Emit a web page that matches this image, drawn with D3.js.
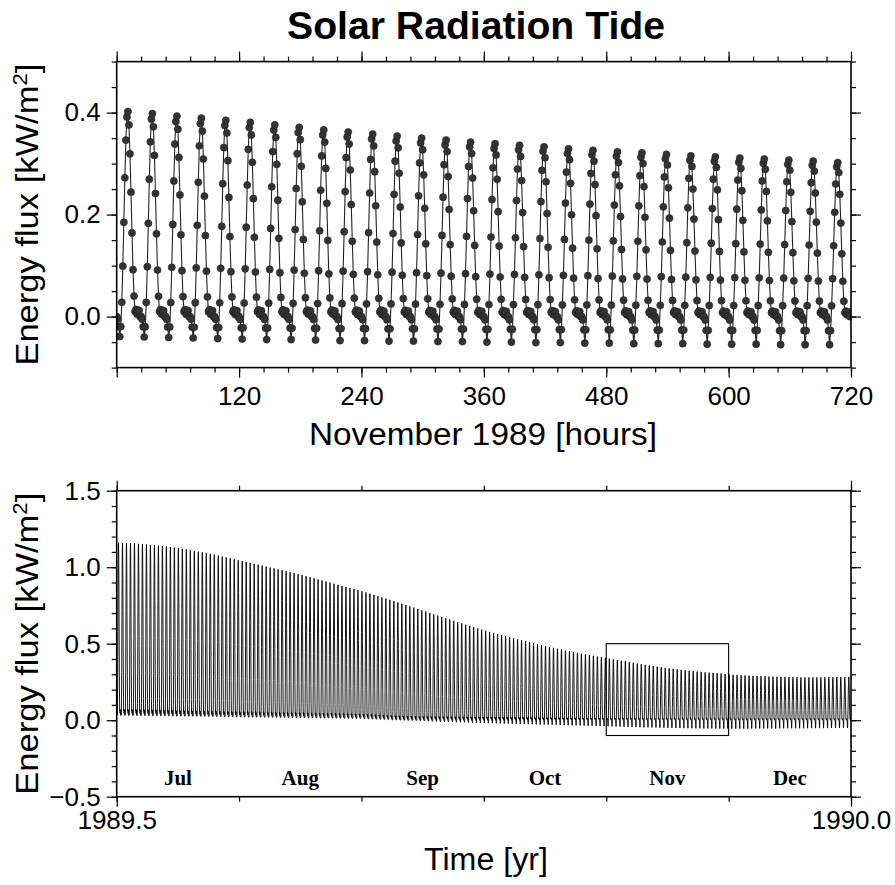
<!DOCTYPE html>
<html>
<head>
<meta charset="utf-8">
<script src="https://cdn.jsdelivr.net/npm/d3@7"></script>
<style>
  html, body { margin: 0; padding: 0; background: #fff; }
  svg { display: block; font-family: "Liberation Sans", Arial, Helvetica, sans-serif; }
</style>
</head>
<body>
<svg id="chart" width="895" height="885"></svg>
<script>
// ---------------------------------------------------------------
// Data: surface solar energy flux, second half of 1989
// ---------------------------------------------------------------
const monthNames = ["Jul", "Aug", "Sep", "Oct", "Nov", "Dec"];
const monthLengths = [31, 31, 30, 31, 30, 31];

// Daily maximum flux [kW/m^2], 1 Jul - 31 Dec 1989
const dailyMax = [
  // Jul
  1.160, 1.159, 1.158, 1.157, 1.155, 1.153, 1.151, 1.149, 1.146, 1.144, 1.141, 1.138, 1.135, 1.132, 1.128, 1.124,
  1.120, 1.116, 1.112, 1.107, 1.102, 1.097, 1.092, 1.087, 1.082, 1.076, 1.070, 1.064, 1.058, 1.052, 1.046,
  // Aug
  1.040, 1.034, 1.028, 1.022, 1.016, 1.010, 1.004, 0.998, 0.992, 0.986, 0.980, 0.974, 0.968, 0.961, 0.955, 0.948,
  0.941, 0.934, 0.927, 0.920, 0.913, 0.906, 0.899, 0.892, 0.885, 0.878, 0.871, 0.864, 0.857, 0.850, 0.843,
  // Sep
  0.835, 0.827, 0.819, 0.811, 0.803, 0.795, 0.787, 0.778, 0.770, 0.761, 0.753, 0.744, 0.736, 0.727, 0.718,
  0.710, 0.701, 0.692, 0.684, 0.675, 0.666, 0.658, 0.649, 0.641, 0.632, 0.624, 0.616, 0.608, 0.600, 0.592,
  // Oct
  0.585, 0.577, 0.570, 0.563, 0.556, 0.549, 0.542, 0.535, 0.528, 0.522, 0.515, 0.509, 0.503, 0.497, 0.491, 0.485,
  0.479, 0.473, 0.467, 0.462, 0.456, 0.451, 0.446, 0.440, 0.435, 0.430, 0.426, 0.421, 0.416, 0.412, 0.407,
  // Nov
  0.402, 0.398, 0.393, 0.389, 0.385, 0.381, 0.376, 0.371, 0.366, 0.362, 0.358, 0.354, 0.350, 0.346, 0.342,
  0.339, 0.336, 0.333, 0.329, 0.326, 0.323, 0.321, 0.318, 0.315, 0.313, 0.311, 0.309, 0.307, 0.305, 0.302,
  // Dec
  0.299, 0.297, 0.296, 0.294, 0.293, 0.291, 0.290, 0.289, 0.288, 0.287, 0.286, 0.285, 0.284, 0.283, 0.282, 0.282,
  0.281, 0.281, 0.280, 0.280, 0.280, 0.280, 0.280, 0.280, 0.281, 0.281, 0.281, 0.282, 0.282, 0.282, 0.283
];

// Nightly minimum flux [kW/m^2], same days
const dailyMin = [
  // Jul
  0.033, 0.033, 0.032, 0.032, 0.032, 0.031, 0.031, 0.031, 0.030, 0.030, 0.030, 0.029, 0.029, 0.029, 0.028, 0.028,
  0.028, 0.027, 0.027, 0.027, 0.026, 0.026, 0.026, 0.025, 0.025, 0.025, 0.024, 0.024, 0.023, 0.023, 0.022,
  // Aug
  0.022, 0.022, 0.021, 0.021, 0.021, 0.020, 0.020, 0.020, 0.019, 0.019, 0.019, 0.018, 0.018, 0.018, 0.017, 0.017,
  0.017, 0.016, 0.016, 0.016, 0.015, 0.015, 0.015, 0.014, 0.014, 0.014, 0.013, 0.013, 0.012, 0.012, 0.011,
  // Sep
  0.010, 0.009, 0.008, 0.007, 0.006, 0.005, 0.004, 0.003, 0.002, 0.001, 0.000, -0.001, -0.002, -0.003, -0.004,
  -0.005, -0.006, -0.007, -0.008, -0.009, -0.010, -0.011, -0.012, -0.013, -0.014, -0.014, -0.015, -0.016, -0.016, -0.017,
  // Oct
  -0.018, -0.019, -0.020, -0.020, -0.021, -0.022, -0.022, -0.023, -0.024, -0.024, -0.025, -0.026, -0.026, -0.027, -0.028, -0.028,
  -0.029, -0.030, -0.030, -0.031, -0.032, -0.032, -0.033, -0.034, -0.034, -0.035, -0.036, -0.036, -0.037, -0.038, -0.038,
  // Nov
  -0.039, -0.040, -0.041, -0.042, -0.043, -0.044, -0.045, -0.045, -0.046, -0.047, -0.047, -0.048, -0.048, -0.049, -0.049,
  -0.050, -0.050, -0.051, -0.051, -0.052, -0.052, -0.053, -0.053, -0.053, -0.054, -0.054, -0.054, -0.055, -0.055, -0.055,
  // Dec
  -0.055, -0.055, -0.055, -0.055, -0.055, -0.055, -0.054, -0.054, -0.054, -0.054, -0.054, -0.054, -0.054, -0.053, -0.053, -0.053,
  -0.053, -0.053, -0.053, -0.053, -0.052, -0.052, -0.052, -0.052, -0.052, -0.052, -0.051, -0.051, -0.051, -0.051, -0.051
];

// Hourly daylight curve, 00-23 UT, as a fraction of the day's maximum above the night floor
const dayShape = [0, 0, 0, 0, 0, 0.070, 0.246, 0.460, 0.677, 0.861, 0.973, 1.000,
                  0.935, 0.794, 0.607, 0.408, 0.229, 0.100, 0.025, 0.035, 0.012, 0.017, 0.030, 0];
// Hourly weight of the pre-dawn dip (fraction of a negative nightly minimum)
const dipShape = [0, 0.125, 0.5, 1, 0.5, 0, 0, 0, 0, 0, 0, 0,
                  0, 0, 0, 0, 0, 0, 0, 0, 0, 0, 0, 0];

// Axis ticks and labels
const hourMajorTicks = [0, 120, 240, 360, 480, 600, 720];
const hourMinorStep = 24;
const fluxTopMajor = [0.0, 0.2, 0.4];
const fluxTopMinorStep = 0.05;
const fluxBottomMajor = [-0.5, 0.0, 0.5, 1.0, 1.5];
const fluxBottomMinorStep = 0.1;
const yearTicks = [1989.5, 1990.0];
const novemberIndex = 4;

// ---------------------------------------------------------------
// Hourly series built from the daily values
// ---------------------------------------------------------------
const totalHours = d3.sum(monthLengths) * 24;
const hourly = [];
dailyMax.forEach((mx, d) => {
  const mn = dailyMin[d];
  const floor = Math.max(mn, 0), dip = Math.min(mn, 0), amp = mx - floor;
  dayShape.forEach((s, h) => {
    const i = d * 24 + h;
    hourly.push({ index: i, day: d, year: 1989.5 + 0.5 * i / totalHours, flux: floor + amp * s + dip * dipShape[h] });
  });
});
const novStart = d3.sum(monthLengths.slice(0, novemberIndex));
const novDays = monthLengths[novemberIndex];
const november = hourly
  .filter(p => p.day >= novStart && p.day < novStart + novDays)
  .map(p => ({ hour: p.index - novStart * 24, flux: p.flux }));

// ---------------------------------------------------------------
// Layout
// ---------------------------------------------------------------
const svg = d3.select("#chart");
const L = 116.7, R = 851;
const top1 = 61.6, bot1 = 367.6;
const top2 = 490.7, bot2 = 796.7;

const xHour = d3.scaleLinear().domain([0, 720]).range([L, R]);
const yTop = d3.scaleLinear().domain([-0.1, 0.5]).range([bot1, top1]);
const xYear = d3.scaleLinear().domain([1989.5, 1990.0]).range([L, R]);
const yBot = d3.scaleLinear().domain([-0.5, 1.5]).range([bot2, top2]);

const tickFont = 26;

function styleAxis(g, labelled) {
  g.select(".domain").remove();
  g.selectAll(".tick line").attr("stroke", "#000").attr("stroke-width", 1.2);
  g.selectAll(".tick text")
    .attr("fill", labelled ? "#000" : "none")
    .style("font-size", tickFont + "px")
    .style("font-family", "'Liberation Sans', Arial, sans-serif");
}

function drawAxes(xs, ys, xMajor, xMinor, yMajor, yMinor, x0, x1, y0, y1, xFmt, yFmt, xPad) {
  const gx = svg.append("g");
  // minor ticks
  gx.append("g").attr("transform", `translate(0,${y1})`)
    .call(d3.axisBottom(xs).tickValues(xMinor).tickSize(5).tickFormat(""))
    .call(g => styleAxis(g, false));
  gx.append("g").attr("transform", `translate(0,${y0})`)
    .call(d3.axisTop(xs).tickValues(xMinor).tickSize(5).tickFormat(""))
    .call(g => styleAxis(g, false));
  gx.append("g").attr("transform", `translate(${x0},0)`)
    .call(d3.axisLeft(ys).tickValues(yMinor).tickSize(5).tickFormat(""))
    .call(g => styleAxis(g, false));
  gx.append("g").attr("transform", `translate(${x1},0)`)
    .call(d3.axisRight(ys).tickValues(yMinor).tickSize(5).tickFormat(""))
    .call(g => styleAxis(g, false));
  // major ticks with labels
  gx.append("g").attr("transform", `translate(0,${y1})`)
    .call(d3.axisBottom(xs).tickValues(xMajor).tickSize(10).tickPadding(xPad).tickFormat(xFmt))
    .call(g => styleAxis(g, true));
  gx.append("g").attr("transform", `translate(0,${y0})`)
    .call(d3.axisTop(xs).tickValues(xMajor).tickSize(10).tickFormat(""))
    .call(g => styleAxis(g, false));
  gx.append("g").attr("transform", `translate(${x0},0)`)
    .call(d3.axisLeft(ys).tickValues(yMajor).tickSize(10).tickPadding(6).tickFormat(yFmt))
    .call(g => styleAxis(g, true));
  gx.append("g").attr("transform", `translate(${x1},0)`)
    .call(d3.axisRight(ys).tickValues(yMajor).tickSize(10).tickFormat(""))
    .call(g => styleAxis(g, false));
  // frame
  svg.append("rect")
    .attr("x", x0).attr("y", y0).attr("width", x1 - x0).attr("height", y1 - y0)
    .attr("fill", "none").attr("stroke", "#000").attr("stroke-width", 1.6);
}

function yTitle(cx, cy) {
  const t = svg.append("text")
    .attr("transform", `translate(${cx},${cy}) rotate(-90)`)
    .attr("text-anchor", "middle")
    .attr("textLength", 302).attr("lengthAdjust", "spacingAndGlyphs")
    .style("font-size", "31px");
  t.append("tspan").text("Energy flux [kW/m");
  t.append("tspan").attr("dy", -11).style("font-size", "20px").text("2");
  t.append("tspan").attr("dy", 11).text("]");
}

// clip regions
const defs = svg.append("defs");
defs.append("clipPath").attr("id", "clipTop").append("rect")
  .attr("x", L).attr("y", top1).attr("width", R - L).attr("height", bot1 - top1);
defs.append("clipPath").attr("id", "clipBot").append("rect")
  .attr("x", L).attr("y", top2).attr("width", R - L).attr("height", bot2 - top2);

// ---------------------------------------------------------------
// Title
// ---------------------------------------------------------------
svg.append("text")
  .attr("x", 476).attr("y", 39)
  .attr("text-anchor", "middle")
  .attr("textLength", 378).attr("lengthAdjust", "spacingAndGlyphs")
  .style("font-size", "38px").style("font-weight", "bold")
  .text("Solar Radiation Tide");

// ---------------------------------------------------------------
// Upper panel: November 1989, hourly samples
// ---------------------------------------------------------------
const topData = svg.append("g").attr("clip-path", "url(#clipTop)");
topData.append("path")
  .datum(november)
  .attr("fill", "none").attr("stroke", "#222").attr("stroke-width", 1.1)
  .attr("d", d3.line().x(p => xHour(p.hour)).y(p => yTop(p.flux)));
topData.selectAll("circle")
  .data(november)
  .join("circle")
  .attr("cx", p => xHour(p.hour)).attr("cy", p => yTop(p.flux))
  .attr("r", 3.6).attr("fill", "#333").attr("stroke", "#1e1e1e").attr("stroke-width", 0.5);

drawAxes(xHour, yTop,
  hourMajorTicks, d3.range(0, 721, hourMinorStep),
  fluxTopMajor, d3.range(-0.1, 0.5001, fluxTopMinorStep).map(v => +v.toFixed(2)),
  L, R, top1, bot1,
  v => (v === 0 ? "" : d3.format("d")(v)), d3.format(".1f"), 9);

svg.append("text")
  .attr("x", 483).attr("y", 445)
  .attr("text-anchor", "middle")
  .attr("textLength", 348).attr("lengthAdjust", "spacingAndGlyphs")
  .style("font-size", "31px")
  .text("November 1989 [hours]");
yTitle(38, (top1 + bot1) / 2);

// ---------------------------------------------------------------
// Lower panel: July - December 1989
// ---------------------------------------------------------------
const monthStarts = d3.range(0, 7).map(k => 1989.5 + k / 12);

svg.append("g").attr("clip-path", "url(#clipBot)")
  .append("path")
  .datum(hourly)
  .attr("fill", "none").attr("stroke", "#000").attr("stroke-width", 0.9)
  .attr("d", d3.line().x(p => xYear(p.year)).y(p => yBot(p.flux)));

// outline of the November window shown in the upper panel
svg.append("rect")
  .attr("x", xYear(monthStarts[novemberIndex]))
  .attr("y", yBot(yTop.domain()[1]))
  .attr("width", xYear(monthStarts[novemberIndex + 1]) - xYear(monthStarts[novemberIndex]))
  .attr("height", yBot(yTop.domain()[0]) - yBot(yTop.domain()[1]))
  .attr("fill", "none").attr("stroke", "#000").attr("stroke-width", 1.1);

drawAxes(xYear, yBot,
  yearTicks, monthStarts,
  fluxBottomMajor, d3.range(-0.5, 1.5001, fluxBottomMinorStep).map(v => +v.toFixed(1)),
  L, R, top2, bot2,
  d3.format(".1f"), d3.format(".1f"), 4);

// month names inside the lower panel
svg.append("g").selectAll("text")
  .data(monthNames)
  .join("text")
  .attr("x", (m, k) => xYear(1989.5 + (k + 0.5) / 12))
  .attr("y", 785)
  .attr("text-anchor", "middle")
  .style("font-family", "'Liberation Serif', 'Times New Roman', serif")
  .style("font-weight", "bold")
  .style("font-size", "21px")
  .text(m => m);

svg.append("text")
  .attr("x", 486).attr("y", 870)
  .attr("text-anchor", "middle")
  .attr("textLength", 124).attr("lengthAdjust", "spacingAndGlyphs")
  .style("font-size", "31px")
  .text("Time [yr]");
yTitle(38, (top2 + bot2) / 2);
</script>
</body>
</html>
